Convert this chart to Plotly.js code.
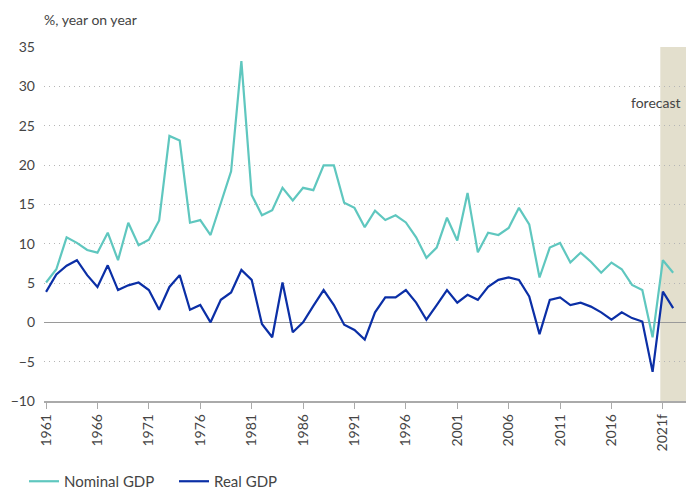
<!DOCTYPE html>
<html>
<head>
<meta charset="utf-8">
<script src="https://cdn.plot.ly/plotly-3.0.1.min.js"></script>
<style>
html,body{margin:0;padding:0;background:#fff;}
#chart{width:686px;height:490px;}
</style>
</head>
<body>
<div id="chart"></div>
<script>
const years = [1961,1962,1963,1964,1965,1966,1967,1968,1969,1970,
1971,1972,1973,1974,1975,1976,1977,1978,1979,1980,
1981,1982,1983,1984,1985,1986,1987,1988,1989,1990,
1991,1992,1993,1994,1995,1996,1997,1998,1999,2000,
2001,2002,2003,2004,2005,2006,2007,2008,2009,2010,
2011,2012,2013,2014,2015,2016,2017,2018,2019,2020,
2021,2022];

const nominalGDP = [5.06,6.75,10.8,10.1,9.2,8.86,11.4,7.9,12.66,9.8,
10.5,12.95,23.7,23.1,12.66,13.0,11.1,15.2,19.2,33.2,
16.2,13.6,14.25,17.1,15.5,17.1,16.8,19.95,19.95,15.2,
14.55,12.1,14.2,13.0,13.6,12.7,10.8,8.2,9.5,13.3,
10.4,16.45,8.9,11.4,11.1,12.0,14.55,12.45,5.7,9.5,
10.1,7.6,8.86,7.7,6.3,7.6,6.75,4.76,4.1,-1.9,
7.9,6.3];

const realGDP = [3.87,6.1,7.2,7.9,6.0,4.5,7.25,4.1,4.7,5.06,
4.1,1.6,4.5,6.0,1.6,2.2,0.0,2.86,3.8,6.66,
5.4,-0.2,-1.9,5.06,-1.27,0.0,2.1,4.1,2.2,-0.3,
-0.97,-2.2,1.27,3.16,3.16,4.1,2.5,0.33,2.2,4.1,
2.5,3.5,2.86,4.5,5.4,5.7,5.4,3.3,-1.5,2.86,
3.16,2.2,2.5,2.0,1.27,0.33,1.27,0.54,0.1,-6.3,
3.9,1.8];

const tickYears = [1961,1966,1971,1976,1981,1986,1991,1996,2001,2006,2011,2016,2021];
const tickLabels = ["1961","1966","1971","1976","1981","1986","1991","1996","2001","2006","2011","2016","2021f"];
const yTicks = [-10,-5,0,5,10,15,20,25,30,35];
const forecastStart = 2020.75;
const forecastEnd = 2023.25;

const FONT = "Lato, 'Noto Sans', sans-serif";
const TXT = "#444444";

const traces = [
  {x: years, y: nominalGDP, type: 'scatter', mode: 'lines', name: 'Nominal GDP',
   line: {color: '#5fc7bf', width: 2.2}},
  {x: years, y: realGDP, type: 'scatter', mode: 'lines', name: 'Real GDP',
   line: {color: '#0b2fa6', width: 2.2}}
];

const layout = {
  width: 686, height: 490,
  margin: {l: 44, r: 0, t: 47, b: 89, autoexpand: false},
  paper_bgcolor: '#ffffff', plot_bgcolor: '#ffffff',
  font: {family: FONT, size: 14, color: TXT},
  showlegend: true,
  legend: {orientation: 'h', xref: 'container', yref: 'paper',
           x: 0.035, y: -0.274, xanchor: 'left', yanchor: 'bottom',
           font: {family: FONT, size: 15, color: TXT}, itemwidth: 30,
           entrywidth: 105, entrywidthmode: 'pixels',
           traceorder: 'normal', bgcolor: 'rgba(0,0,0,0)'},
  xaxis: {range: [1960.8, forecastEnd], tickmode: 'array', tickvals: tickYears, ticktext: tickLabels,
          tickangle: -90, ticks: 'outside', ticklen: 6, tickcolor: '#aaaaaa', tickwidth: 1,
          showline: true, linecolor: '#aaaaaa', linewidth: 1.5, showgrid: false, zeroline: false,
          tickfont: {family: FONT, size: 14, color: TXT}},
  yaxis: {range: [-10, 35], tickmode: 'array', tickvals: yTicks, showline: false,
          showgrid: true, gridcolor: '#b5b5b5', griddash: '1px,4px', gridwidth: 1,
          zeroline: true, zerolinecolor: '#9a9a9a', zerolinewidth: 1.5,
          ticks: '', ticklabelstandoff: 8,
          tickfont: {family: FONT, size: 14, color: TXT}},
  shapes: [{type: 'rect', xref: 'x', yref: 'paper', x0: forecastStart, x1: forecastEnd, y0: 0, y1: 1,
            fillcolor: '#e3dfcd', line: {width: 0}, layer: 'below'}],
  annotations: [
    {text: '%, year on year', xref: 'paper', yref: 'paper', x: 0, y: 1.079,
     xanchor: 'left', yanchor: 'middle', showarrow: false, font: {family: FONT, size: 14, color: TXT}, xshift: -2},
    {text: 'forecast', xref: 'paper', yref: 'y', x: 1, y: 28, xanchor: 'right', yanchor: 'middle',
     showarrow: false, font: {family: FONT, size: 14, color: TXT}, xshift: -3}
  ]
};

Plotly.newPlot('chart', traces, layout, {displayModeBar: false, staticPlot: true});
</script>
</body>
</html>
